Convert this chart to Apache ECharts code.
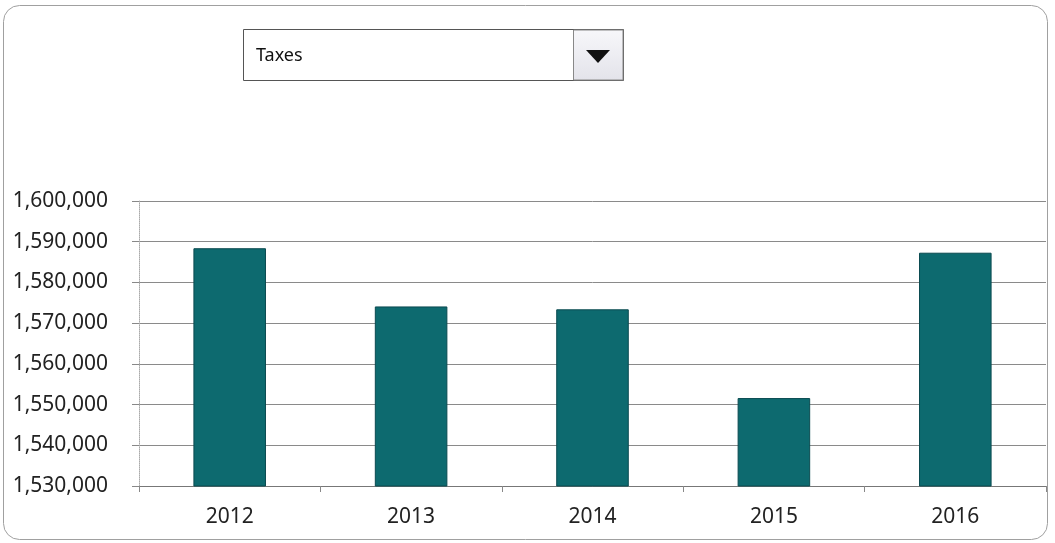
<!DOCTYPE html>
<html>
<head>
<meta charset="utf-8">
<style>html,body{margin:0;padding:0;background:#fff;}#c{width:1055px;height:543px;}</style>
<script src="https://cdn.jsdelivr.net/npm/echarts@6/dist/echarts.min.js"></script>
</head>
<body>
<div id="c"></div>
<script>
const categories = ['2012', '2013', '2014', '2015', '2016'];
const taxes = [1588400, 1574100, 1573400, 1551600, 1587300];
const selectorLabel = 'Taxes';
const yMin = 1530000, yMax = 1600000, yStep = 10000;

const chart = echarts.init(document.getElementById('c'), null, {renderer: 'canvas'});
const font = 'Noto Sans';
chart.setOption({
  animation: false,
  backgroundColor: '#fff',
  grid: {left: 139, right: 9, top: 201, bottom: 57, containLabel: false},
  xAxis: {
    type: 'category',
    data: categories,
    axisLine: {show: true, lineStyle: {color: '#777', width: 1}},
    axisTick: {show: true, alignWithLabel: false, length: 6, lineStyle: {color: '#888'}},
    axisLabel: {fontFamily: font, fontSize: 21, color: '#222', margin: 21},
    splitLine: {show: false}
  },
  yAxis: {
    type: 'value',
    min: yMin, max: yMax, interval: yStep,
    axisLine: {show: true, lineStyle: {color: '#aaa', width: 1, type: 'dotted'}},
    axisTick: {show: true, length: 7, lineStyle: {color: '#888'}},
    axisLabel: {
      fontFamily: font, fontSize: 21, color: '#222', margin: 31,
      formatter: v => v.toLocaleString('en-US')
    },
    splitLine: {show: true, lineStyle: {color: '#8a8a8a', width: 1}}
  },
  series: [{
    type: 'bar',
    data: taxes,
    barWidth: '40%',
    itemStyle: {color: '#0d6a6f', borderColor: '#0a4a50', borderWidth: 1}
  }],
  graphic: [
    {type: 'rect', shape: {x: 3.5, y: 5.5, width: 1044, height: 534, r: 16},
     style: {fill: 'none', stroke: '#a0a0a0', lineWidth: 1}, z: 100},
    {type: 'rect', shape: {x: 243.5, y: 29.5, width: 380, height: 51},
     style: {fill: '#fff', stroke: '#555', lineWidth: 1}, z: 100},
    {type: 'rect', shape: {x: 573.5, y: 30, width: 49.5, height: 50},
     style: {fill: new echarts.graphic.LinearGradient(0, 0, 0, 1, [{offset: 0, color: '#f7f7fa'}, {offset: 1, color: '#e3e3ea'}]), stroke: '#888', lineWidth: 1}, z: 101},
    {type: 'polygon', shape: {points: [[586, 50], [610, 50], [598, 63]]},
     style: {fill: '#111'}, z: 102},
    {type: 'text', left: 256, top: 47,
     style: {text: selectorLabel, font: '18px "Noto Sans"', fill: '#111'}, z: 102}
  ]
});
</script>
</body>
</html>
